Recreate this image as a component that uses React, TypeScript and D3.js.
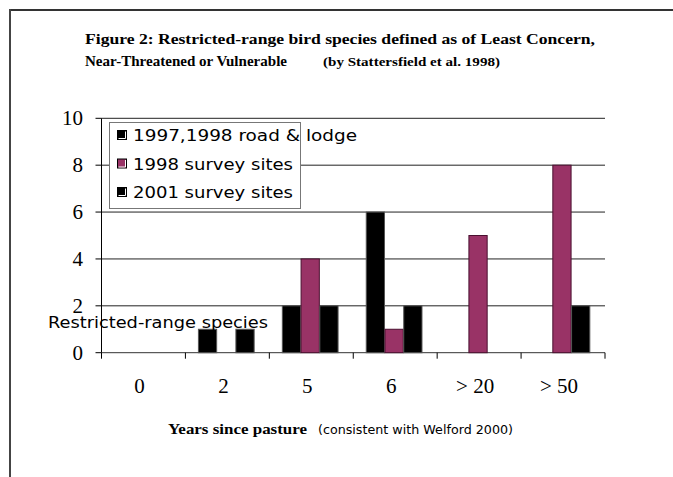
import React from "react";
import * as d3 from "d3";

const categories = ["0", "2", "5", "6", "> 20", "> 50"];
const seriesNames = ["1997,1998 road & lodge", "1998 survey sites", "2001 survey sites"];
const roadLodge = [0, 1, 2, 6, 0, 0];
const survey1998 = [0, 0, 4, 1, 5, 8];
const survey2001 = [0, 1, 2, 2, 0, 2];
const yTicks = [0, 2, 4, 6, 8, 10];
const seriesColors = ["#000000", "#993366", "#000000"];
const seriesStrokes = ["#555555", "#4a1030", "#555555"];

const W = 673;
const H = 477;

export default function App() {
  const x = d3.scaleBand<string>().domain(categories).range([101.5, 605]).padding(0);
  const inner = d3
    .scaleBand<string>()
    .domain(seriesNames)
    .range([x.bandwidth() * 0.155, x.bandwidth() * 0.825])
    .padding(0);
  const y = d3.scaleLinear().domain([0, 10]).range([352.7, 118.3]);
  const values = [roadLodge, survey1998, survey2001];
  const serif = "'Liberation Serif', 'Times New Roman', serif";
  const sans = "'DejaVu Sans', Verdana, sans-serif";

  return (
    <svg
      width={W}
      height={H}
      style={{ position: "absolute", left: 0, top: 0, background: "#fff" }}
    >
      <rect x={0} y={0} width={W} height={H} fill="#fff" />
      {/* frame */}
      <line x1={9} y1={10} x2={W} y2={10} stroke="#333" strokeWidth={2} />
      <line x1={10} y1={9} x2={10} y2={H} stroke="#444" strokeWidth={2} />

      {/* title */}
      <text x={85} y={44} fontFamily={serif} fontWeight="bold" fontSize={15.5} textLength={510} lengthAdjust="spacingAndGlyphs">
        Figure 2: Restricted-range bird species defined as of Least Concern,
      </text>
      <text x={85} y={66} fontFamily={serif} fontWeight="bold" fontSize={15.5} textLength={202} lengthAdjust="spacingAndGlyphs">
        Near-Threatened or Vulnerable
      </text>
      <text x={323} y={66} fontFamily={serif} fontWeight="bold" fontSize={12} textLength={177} lengthAdjust="spacingAndGlyphs">
        (by Stattersfield et al. 1998)
      </text>

      {/* gridlines */}
      {yTicks.map((t) => (
        <line key={"g" + t} x1={x.range()[0]} x2={605} y1={y(t)} y2={y(t)} stroke={t === 0 ? "#333" : "#222"} strokeWidth={1} />
      ))}
      {/* y axis */}
      <line x1={101.5} x2={101.5} y1={y(10)} y2={y(0)} stroke="#000" strokeWidth={1} />
      {yTicks.map((t) => (
        <g key={"yt" + t}>
          <line x1={95.5} x2={101.5} y1={y(t)} y2={y(t)} stroke="#000" />
          <text x={83} y={y(t) + 7} textAnchor="end" fontFamily={serif} fontSize={21}>
            {t}
          </text>
        </g>
      ))}

      {/* bars */}
      {categories.map((c, ci) => (
        <g key={"c" + c} transform={`translate(${x(c)},0)`}>
          {seriesNames.map((s, si) => {
            const v = values[si][ci];
            if (!v) return null;
            return (
              <rect
                key={s}
                x={inner(s)}
                y={y(v)}
                width={inner.bandwidth() - 0.5}
                height={y(0) - y(v)}
                fill={seriesColors[si]}
                stroke={seriesStrokes[si]}
                strokeWidth={1}
              />
            );
          })}
        </g>
      ))}

      {/* x axis ticks */}
      {[...categories.map((c) => x(c) as number), 605].map((px, i) => (
        <line key={"xt" + i} x1={px} x2={px} y1={y(0)} y2={y(0) + 6} stroke="#000" />
      ))}
      {categories.map((c) => (
        <text key={"xl" + c} x={(x(c) as number) + x.bandwidth() / 2 - 4} y={393} textAnchor="middle" fontFamily={serif} fontSize={21}>
          {c}
        </text>
      ))}

      {/* axis titles */}
      <text x={48} y={328} fontFamily={sans} fontSize={16} textLength={220} lengthAdjust="spacingAndGlyphs">
        Restricted-range species
      </text>
      <text x={168} y={434} fontFamily={serif} fontWeight="bold" fontSize={15} textLength={139} lengthAdjust="spacingAndGlyphs">
        Years since pasture
      </text>
      <text x={318} y={434} fontFamily={sans} fontSize={11.5} textLength={195} lengthAdjust="spacingAndGlyphs">
        (consistent with Welford 2000)
      </text>

      {/* legend */}
      <rect x={109.5} y={122.5} width={191} height={86} fill="#fff" stroke="#777" strokeWidth={1} />
      {seriesNames.map((s, i) => {
        const cy = 135 + i * 28.5;
        const tw = [224, 160, 160][i];
        return (
          <g key={"lg" + s}>
            <rect x={117.5} y={cy - 4.5} width={9} height={9} fill={seriesColors[i]} stroke="#000" strokeWidth={1} />
            <path d={`M${118.5},${cy + 3.5} H${125.5} V${cy - 3.5}`} fill="none" stroke="#fff" strokeWidth={1} />
            <text x={133} y={cy + 6} fontFamily={sans} fontSize={16} textLength={tw} lengthAdjust="spacingAndGlyphs">
              {s}
            </text>
          </g>
        );
      })}
    </svg>
  );
}
